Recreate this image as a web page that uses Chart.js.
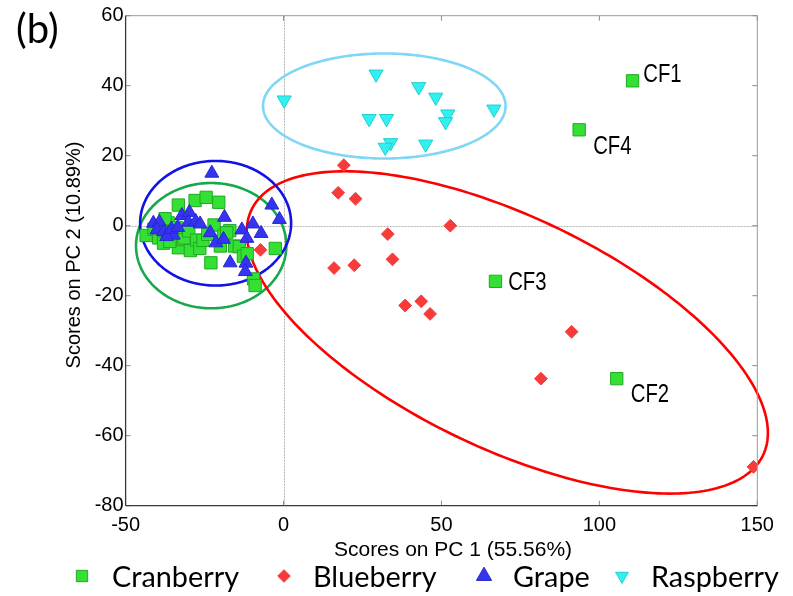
<!DOCTYPE html>
<html>
<head>
<meta charset="utf-8">
<script src="https://cdn.jsdelivr.net/npm/chart.js@4.4.1/dist/chart.umd.min.js"></script>
<style>
  html, body { margin: 0; padding: 0; background: #ffffff; }
  canvas { display: block; }
</style>
</head>
<body>
<canvas id="scores" width="793" height="596"></canvas>
<script>
// PCA scores as [PC1, PC2] pairs
const seriesNames = ['Cranberry', 'Blueberry', 'Grape', 'Raspberry'];

const cranberry = [
  [-43.5, -2.8], [-41.0, -1.0], [-39.5, -3.5], [-38.0, -5.0], [-36.5, 0.8],
  [-35.0, -2.0], [-33.3, 5.9], [-33.3, -6.3], [-32.0, -4.0], [-31.5, -3.5],
  [-30.0, -1.5], [-29.5, -7.1], [-28.0, 7.2], [-27.5, -4.1], [-26.5, -6.5],
  [-25.5, -4.2], [-24.5, 8.1], [-24.0, -2.5], [-23.0, -10.6], [-22.0, 0.2],
  [-20.5, 6.7], [-20.0, -5.8], [-19.0, -3.0], [-17.0, -1.4], [-15.5, -5.8],
  [-14.0, -6.0], [-12.7, -8.7], [-11.5, -8.0], [-9.5, -15.2], [-9.0, -17.1],
  [-2.6, -6.5], [-18.0, -2.0], [-36.0, -4.5], [-34.0, -0.5], [-37.5, 2.0]
];
// commercial cranberry samples, labelled on the plot
const cfLabels = ['CF1', 'CF2', 'CF3', 'CF4'];
const cfScores = [[110.5, 41.4], [105.5, -43.7], [67.1, -15.9], [93.6, 27.4]];

const blueberry = [
  [19.1, 17.3], [17.3, 9.4], [22.8, 7.7], [33.0, -2.4], [52.8, 0.0],
  [34.5, -9.6], [16.0, -12.1], [22.4, -11.3], [38.5, -22.8], [43.6, -21.6],
  [46.4, -25.2], [-7.3, -6.9], [91.2, -30.3], [81.5, -43.7], [148.8, -68.9]
];

const grape = [
  [-41.2, 0.7], [-39.3, 1.0], [-40.1, -1.2], [-38.0, -1.7], [-36.5, -2.2],
  [-34.9, -2.7], [-37.0, -3.1], [-32.2, 2.9], [-29.8, 3.8], [-30.1, 1.0],
  [-27.8, 1.2], [-26.4, 0.5], [-22.7, 15.0], [-18.7, 2.4], [-23.2, -2.0],
  [-21.4, -4.9], [-19.0, -3.9], [-16.9, -10.6], [-13.2, -1.2], [-9.7, 0.5],
  [-11.6, -3.6], [-7.1, -2.2], [-3.7, 5.9], [-1.3, 1.8], [-11.9, -10.7],
  [-12.1, -13.1], [-35.5, -1.0], [-33.5, -0.5]
];

const raspberry = [
  [29.3, 43.3], [0.2, 35.9], [42.8, 39.7], [48.2, 36.7], [66.6, 33.3],
  [27.1, 30.6], [32.6, 30.6], [52.0, 31.9], [51.3, 29.7], [33.9, 23.7],
  [32.2, 22.4], [45.0, 23.3]
];

const xTicks = [-50, 0, 50, 100, 150];
const yTicks = [-80, -60, -40, -20, 0, 20, 40, 60];
const xTitle = 'Scores on PC 1 (55.56%)';
const yTitle = 'Scores on PC 2 (10.89%)';
const panelTag = '(b)';

// group confidence ellipses: centre and two conjugate semi-axis vectors (score units),
// in the same order as seriesNames
const ellipseCentres = [[-22.9, -5.7], [70.85, -30.5], [-21.5, 0.7], [31.9, 34.2]];
const ellipseAxisU   = [[23.8, 0], [80.96, -35.1], [23.9, 0], [38.4, 0]];
const ellipseAxisV   = [[0, 17.9], [-15.9, -29.8], [0, 17.8], [0, 15.0]];

// ---- styling ----
const markerStyle = [
  { pointStyle: 'rect',     rotation: 0,   radius: 8.7, fill: '#33e033', edge: '#22a822', legendR: 8.0 },
  { pointStyle: 'rectRot',  rotation: 0,   radius: 6.4, fill: '#f73b3b', edge: '#f73b3b', legendR: 6.3 },
  { pointStyle: 'triangle', rotation: 0,   radius: 8.0, fill: '#3535f0', edge: '#2626d0', legendR: 8.8 },
  { pointStyle: 'triangle', rotation: 180, radius: 8.2, fill: '#33f0f0', edge: '#22cfcf', legendR: 7.4 }
];
const ellipseColours = ['#17a84b', '#ff0000', '#1212e6', '#7fd6f5'];
const axisFont = 'Liberation Sans, Arial, sans-serif';
const legendFont = 'Lato, "Open Sans", sans-serif';

const toPoints = arr => arr.map(([x, y]) => ({ x, y }));
const seriesData = [cranberry.concat(cfScores), blueberry, grape, raspberry];

const datasets = seriesNames.map((name, i) => ({
  label: name,
  data: toPoints(seriesData[i]),
  pointStyle: markerStyle[i].pointStyle,
  rotation: markerStyle[i].rotation,
  pointRadius: markerStyle[i].radius,
  backgroundColor: markerStyle[i].fill,
  borderColor: markerStyle[i].edge,
  borderWidth: 1,
  order: seriesNames.length - i
}));

function segment(ctx, x1, y1, x2, y2) {
  ctx.beginPath(); ctx.moveTo(x1, y1); ctx.lineTo(x2, y2); ctx.stroke();
}

// zero lines and confidence ellipses, under the markers
const underlay = {
  id: 'underlay',
  beforeDatasetsDraw(chart) {
    const { ctx, chartArea: a, scales: { x, y } } = chart;
    ctx.save();
    ctx.strokeStyle = '#b4b4b4';
    ctx.lineWidth = 1;
    ctx.setLineDash([2, 1]);
    const x0 = Math.round(x.getPixelForValue(0)) + 0.5;
    const y0 = Math.round(y.getPixelForValue(0)) + 0.5;
    segment(ctx, x0, a.top, x0, a.bottom);
    segment(ctx, a.left, y0, a.right, y0);
    ctx.setLineDash([]);

    ellipseCentres.forEach((c, i) => {
      const u = ellipseAxisU[i], v = ellipseAxisV[i];
      ctx.beginPath();
      for (let k = 0; k <= 240; k++) {
        const t = (k / 240) * Math.PI * 2;
        const px = x.getPixelForValue(c[0] + u[0] * Math.cos(t) + v[0] * Math.sin(t));
        const py = y.getPixelForValue(c[1] + u[1] * Math.cos(t) + v[1] * Math.sin(t));
        if (k === 0) ctx.moveTo(px, py); else ctx.lineTo(px, py);
      }
      ctx.closePath();
      ctx.strokeStyle = ellipseColours[i];
      ctx.lineWidth = 2.6;
      ctx.stroke();
    });
    ctx.restore();
  }
};

function drawMarker(ctx, style, r, cx, cy) {
  if (Chart.helpers && Chart.helpers.drawPoint) {
    Chart.helpers.drawPoint(ctx, { pointStyle: style.pointStyle, rotation: style.rotation, radius: r, borderWidth: 1 }, cx, cy);
    return;
  }
  ctx.beginPath();
  if (style.pointStyle === 'rect') {
    const s = r * Math.SQRT1_2;
    ctx.rect(cx - s, cy - s, 2 * s, 2 * s);
  } else if (style.pointStyle === 'rectRot') {
    ctx.moveTo(cx, cy - r); ctx.lineTo(cx + r, cy); ctx.lineTo(cx, cy + r); ctx.lineTo(cx - r, cy);
  } else {
    let ang = style.rotation * Math.PI / 180;
    for (let k = 0; k < 3; k++) {
      const px = cx + Math.sin(ang) * r, py = cy - Math.cos(ang) * r;
      if (k === 0) ctx.moveTo(px, py); else ctx.lineTo(px, py);
      ang += Math.PI * 2 / 3;
    }
  }
  ctx.closePath();
  ctx.fill(); ctx.stroke();
}

// axes frame with inward ticks, titles, sample labels and the legend row
const overlay = {
  id: 'overlay',
  afterDraw(chart) {
    const { ctx, chartArea: a, scales: { x, y } } = chart;
    ctx.save();

    ctx.lineWidth = 1;
    ctx.strokeStyle = '#9c9c9c';
    segment(ctx, a.left, a.top, a.right, a.top);
    segment(ctx, a.right, a.top, a.right, a.bottom);
    ctx.strokeStyle = '#8c8c8c';
    x.ticks.forEach(t => {
      const X = x.getPixelForValue(t.value);
      segment(ctx, X, a.bottom, X, a.bottom - 5);
      segment(ctx, X, a.top, X, a.top + 5);
    });
    y.ticks.forEach(t => {
      const Y = y.getPixelForValue(t.value);
      segment(ctx, a.left, Y, a.left + 5, Y);
      segment(ctx, a.right, Y, a.right - 5, Y);
    });
    ctx.strokeStyle = '#3a3a3a';
    ctx.lineWidth = 1.3;
    segment(ctx, a.left, a.top, a.left, a.bottom);
    segment(ctx, a.left, a.bottom, a.right, a.bottom);

    // axis titles
    ctx.fillStyle = '#000';
    ctx.textBaseline = 'alphabetic';
    ctx.textAlign = 'center';
    ctx.font = '21px ' + axisFont;
    ctx.fillText(xTitle, 453, 556);
    ctx.save();
    ctx.translate(80, 255);
    ctx.rotate(-Math.PI / 2);
    ctx.font = '20px ' + axisFont;
    ctx.fillText(yTitle, 0, 0);
    ctx.restore();

    // panel tag
    ctx.textAlign = 'left';
    ctx.font = '40px ' + legendFont;
    ctx.fillText(panelTag, 16, 43);

    // sample labels next to the CF points
    const labelShift = { CF1: [10.7, 1.3], CF2: [14, 23], CF3: [12.7, 8.7], CF4: [14, 24.3] };
    ctx.font = '26px ' + axisFont;
    cfLabels.forEach((lab, i) => {
      const px = x.getPixelForValue(cfScores[i][0]);
      const py = y.getPixelForValue(cfScores[i][1]);
      const [dx, dy] = labelShift[lab];
      ctx.save();
      ctx.translate(px + dx, py + dy);
      ctx.scale(0.78, 1);
      ctx.fillText(lab, 0, 0);
      ctx.restore();
    });

    // legend row
    const markX = [82, 284, 484, 622];
    const textX = [112, 313, 513, 651];
    const rowY = 576;
    ctx.font = '28px ' + legendFont;
    const squeeze = 127 / ctx.measureText(seriesNames[0]).width;
    seriesNames.forEach((name, i) => {
      const st = markerStyle[i];
      ctx.fillStyle = st.fill;
      ctx.strokeStyle = st.edge;
      ctx.lineWidth = 1;
      drawMarker(ctx, st, st.legendR, markX[i], rowY);
      ctx.fillStyle = '#000';
      ctx.save();
      ctx.translate(textX[i], 586.5);
      ctx.scale(squeeze, 1);
      ctx.textAlign = 'left';
      ctx.fillText(name, 0, 0);
      ctx.restore();
    });

    ctx.restore();
  }
};

new Chart(document.getElementById('scores'), {
  type: 'scatter',
  data: { datasets },
  plugins: [underlay, overlay],
  options: {
    responsive: false,
    devicePixelRatio: 1,
    animation: false,
    events: [],
    layout: { padding: { top: 15.7, right: 35.7, bottom: 50.3, left: 0 } },
    plugins: { legend: { display: false }, tooltip: { enabled: false } },
    scales: {
      x: {
        type: 'linear',
        min: xTicks[0],
        max: xTicks[xTicks.length - 1],
        afterBuildTicks: s => { s.ticks = xTicks.map(v => ({ value: v })); },
        afterFit: s => { s.height = 40; },
        ticks: { font: { family: axisFont, size: 20 }, color: '#000', padding: 8, maxRotation: 0, autoSkip: false },
        grid: { display: false, drawTicks: false },
        border: { display: false }
      },
      y: {
        type: 'linear',
        min: yTicks[0],
        max: yTicks[yTicks.length - 1],
        afterBuildTicks: s => { s.ticks = yTicks.map(v => ({ value: v })); },
        afterFit: s => { s.width = 125.6; },
        ticks: { font: { family: axisFont, size: 20 }, color: '#000', padding: 2, autoSkip: false },
        grid: { display: false, drawTicks: false },
        border: { display: false }
      }
    }
  }
});
</script>
</body>
</html>
